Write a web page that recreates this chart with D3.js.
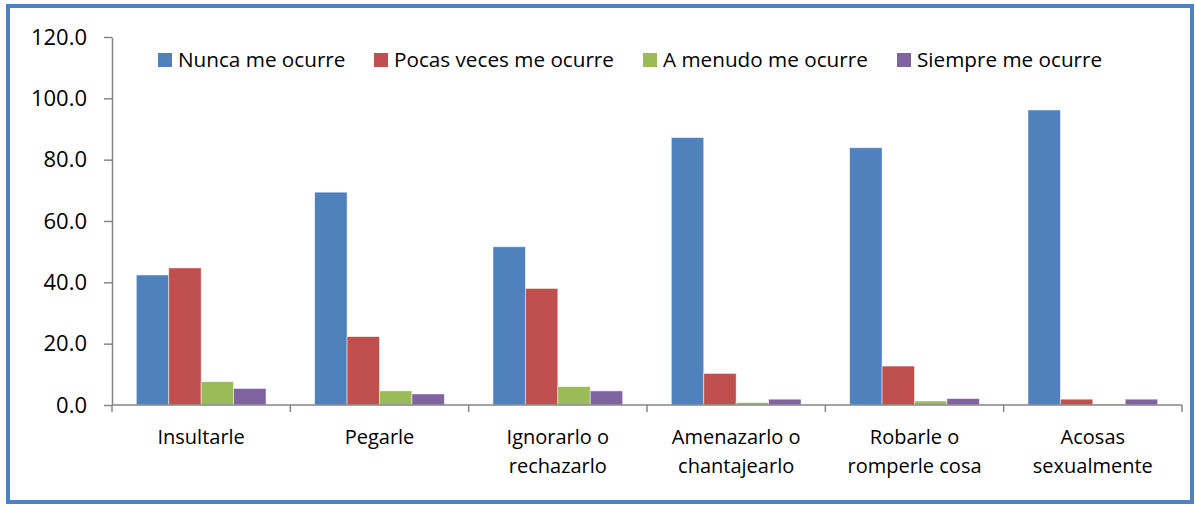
<!DOCTYPE html>
<html>
<head>
<meta charset="utf-8">
<script src="https://cdn.jsdelivr.net/npm/d3@7"></script>
<style>
  body { margin: 0; background: #fff; }
  text { font-family: "Open Sans", "Noto Sans", sans-serif; fill: #000; }
</style>
</head>
<body>
<svg id="svg"></svg>
<script>
var categories = [["Insultarle"], ["Pegarle"], ["Ignorarlo o", "rechazarlo"], ["Amenazarlo o", "chantajearlo"], ["Robarle o", "romperle cosa"], ["Acosas", "sexualmente"]];
var seriesNames = ["Nunca me ocurre", "Pocas veces me ocurre", "A menudo me ocurre", "Siempre me ocurre"];
var nunca = [42.4, 69.4, 51.6, 87.2, 83.9, 96.2];
var pocas = [44.7, 22.3, 38.0, 10.3, 12.7, 1.9];
var menudo = [7.6, 4.6, 6.0, 0.8, 1.3, 0.3];
var siempre = [5.4, 3.6, 4.6, 1.9, 2.1, 1.9];
var yTicks = [0, 20, 40, 60, 80, 100, 120];
var colors = ["#4F81BD", "#C0504D", "#9BBB59", "#8064A2"];

var width = 1196, height = 506;
var plot = {left: 112, right: 1182, top: 37, bottom: 405};

var svg = d3.select("#svg").attr("width", width).attr("height", height);

// marco exterior
svg.append("rect")
    .attr("x", 8).attr("y", 6)
    .attr("width", 1184).attr("height", 496)
    .attr("fill", "#fff")
    .attr("stroke", "#4F81BD").attr("stroke-width", 4);

var allSeries = [nunca, pocas, menudo, siempre];
var rows = categories.map((c, i) => ({cat: i, vals: allSeries.map(s => s[i])}));

var xScale = d3.scaleBand().domain(d3.range(categories.length)).range([plot.left, plot.right]).paddingInner(0).paddingOuter(0);
var inner = d3.scaleBand().domain(d3.range(seriesNames.length))
    .range([0, xScale.bandwidth()]).paddingOuter(0.75).paddingInner(0);
var yScale = d3.scaleLinear().domain([0, 120]).range([plot.bottom, plot.top]);

// barras
var groups = svg.append("g").selectAll("g").data(rows).enter().append("g")
    .attr("transform", d => `translate(${xScale(d.cat)},0)`);
groups.selectAll("rect").data(d => d.vals).enter().append("rect")
    .attr("x", (v, j) => inner(j))
    .attr("y", v => yScale(v))
    .attr("width", inner.bandwidth())
    .attr("height", v => plot.bottom - yScale(v))
    .attr("fill", (v, j) => colors[j])
    .attr("stroke", "rgba(255,255,255,0.6)").attr("stroke-width", 0.8);

// eje y
var yAxis = svg.append("g").attr("transform", `translate(${plot.left},0)`)
    .call(d3.axisLeft(yScale).tickValues(yTicks).tickFormat(d3.format(".1f")).tickSize(8).tickSizeOuter(0));
yAxis.select(".domain").attr("stroke", "#868686").attr("stroke-width", 1.5);
yAxis.selectAll(".tick line").attr("stroke", "#868686").attr("stroke-width", 1.5);
yAxis.selectAll(".tick text").attr("x", -25).attr("font-size", 22).attr("fill", "#000")
    .style("font-family", "'Open Sans', sans-serif");

// eje x
var xAxis = svg.append("g").attr("transform", `translate(0,${plot.bottom})`);
xAxis.append("line").attr("x1", plot.left).attr("x2", plot.right)
    .attr("stroke", "#868686").attr("stroke-width", 1.5);
xAxis.selectAll(".sep").data(d3.range(categories.length + 1)).enter().append("line")
    .attr("x1", i => plot.left + i * xScale.step()).attr("x2", i => plot.left + i * xScale.step())
    .attr("y1", 0).attr("y2", 7)
    .attr("stroke", "#868686").attr("stroke-width", 1.5);
var labels = xAxis.selectAll(".lab").data(categories).enter().append("text")
    .attr("text-anchor", "middle")
    .attr("font-size", 20);
labels.selectAll("tspan").data((d, i) => d.map(t => ({t: t, i: i}))).enter().append("tspan")
    .attr("x", d => xScale(d.i) + xScale.bandwidth() / 2)
    .attr("y", (d, k) => 39 + k * 29)
    .text(d => d.t);

// leyenda
var legendX = [158, 374, 643, 897];
var legend = svg.append("g").selectAll("g").data(seriesNames).enter().append("g")
    .attr("transform", (d, i) => `translate(${legendX[i]},60)`);
legend.append("rect").attr("x", 0).attr("y", -7).attr("width", 14).attr("height", 14)
    .attr("fill", (d, i) => colors[i]);
legend.append("text").attr("x", 20).attr("y", 7).attr("font-size", 20.7).text(d => d);
</script>
</body>
</html>
